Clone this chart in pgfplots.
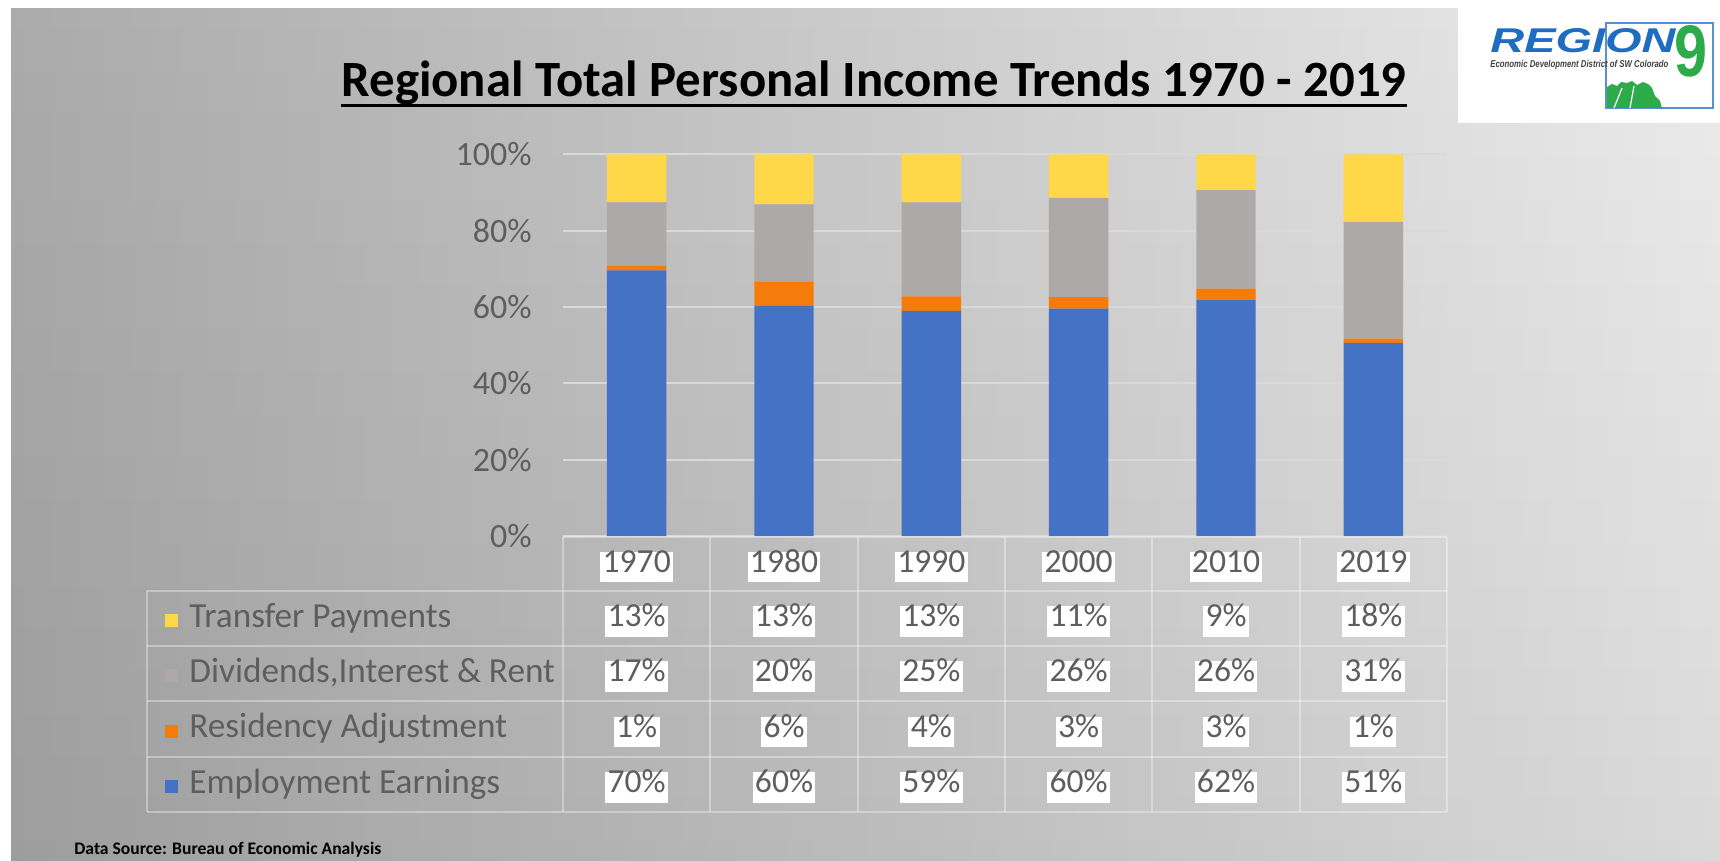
\documentclass[border=0pt]{standalone}
\usepackage{fontspec}
\setmainfont{Carlito}
\newfontfamily\logofont{Liberation Sans}
\usepackage{graphicx}
\usepackage{pgfplots}
\pgfplotsset{compat=1.18}
\usepackage{pgfplotstable}
\usetikzlibrary{fadings}
\pgfkeys{/pgf/number format/assume math mode=true}

\definecolor{cBlue}{HTML}{4472C4}
\definecolor{cOrange}{HTML}{F57C0A}
\definecolor{cGray}{HTML}{ADA9A9}
\definecolor{cYellow}{HTML}{FFD84A}
\definecolor{txt}{HTML}{5E5E5E}
\definecolor{gridc}{HTML}{D9D9D9}
\definecolor{bgL}{RGB}{171,171,171}
\definecolor{bgR}{RGB}{236,236,236}
\definecolor{logoBlue}{HTML}{1F6DC0}
\definecolor{logoGreen}{HTML}{2DAA4A}

% shares of regional total personal income (percent)
\pgfplotstableread{
x year emp res div tra
0 1970 69.6 1.2 16.6 12.6
1 1980 60.3 6.3 20.3 13.1
2 1990 59.0 3.8 24.6 12.6
3 2000 59.6 3.0 26.0 11.4
4 2010 61.8 3.0 25.8 9.4
5 2019 50.6 1.1 30.6 17.7
}\datatable

\begin{document}
\begin{tikzpicture}
\begin{scope}[x=0.5pt,y=-0.5pt]
\useasboundingbox (0,0) rectangle (1720,861);
\fill[white] (0,0) rectangle (1720,861);
\shade[left color=bgL,right color=bgR] (11,9) rectangle (1720,861);
\fill[black,opacity=0.08,path fading=north] (11,9) rectangle (1720,861);
% logo
\fill[white] (1458,0) rectangle (1720,123);
\draw[logoBlue!75, line width=1.1pt] (1606,23) rectangle (1713,108);
\fill[logoGreen] (1607,108) -- (1607,87) -- (1612,84) -- (1617,86) -- (1621,82) -- (1627,83) -- (1632,81) -- (1637,85) -- (1643,82) -- (1648,84) -- (1652,88) -- (1655,96) -- (1660,101) -- (1662,108) -- cycle;
\draw[white, line width=0.6pt] (1614,108) -- (1622,88) (1630,108) -- (1634,86);
\node[anchor=south west, inner sep=0pt, text=logoBlue] at (1490,53) {\resizebox{92.5pt}{12pt}{\logofont\bfseries\itshape REGION}};
\node[anchor=south west, inner sep=0pt, text=logoGreen] at (1674,78) {\resizebox{16.5pt}{25.5pt}{\logofont\bfseries 9}};
\node[anchor=south west, inner sep=0pt, text=black!75] at (1490,70) {\resizebox{89pt}{3.6pt}{\logofont\bfseries\itshape Economic Development District of SW Colorado}};
% title
\node[font=\fontsize{25.4pt}{28pt}\selectfont\bfseries, anchor=base, inner sep=0pt] (title) at (874,97) {Regional Total Personal Income Trends 1970 - 2019};
\draw[line width=1.5pt] ([yshift=-4.5pt]title.base west) -- ([yshift=-4.5pt]title.base east);
% data source
\node[anchor=west, font=\fontsize{8.8pt}{10pt}\selectfont\bfseries, inner sep=0pt] at (74,850) {Data Source: Bureau of Economic Analysis};
\end{scope}

\begin{axis}[
  at={(281.5pt,-268pt)}, anchor=south west,
  scale only axis, width=442pt, height=190.85pt,
  xmin=-0.5, xmax=5.5, ymin=0, ymax=100, enlargelimits=false,
  ybar stacked, bar width=29.7pt,
  axis line style={draw=none}, major tick length=0pt,
  xtick=\empty,
  ytick={0,20,40,60,80,100},
  yticklabels={0\%,20\%,40\%,60\%,80\%,100\%},
  yticklabel style={font=\fontsize{17pt}{17pt}\selectfont, text=txt, inner sep=0pt, xshift=-15.5pt},
  ymajorgrids, major grid style={draw=gridc, line width=1pt},
]
\addplot[fill=cBlue, draw=none] table[x=x,y=emp]{\datatable};
\addplot[fill=cOrange, draw=none] table[x=x,y=res]{\datatable};
\addplot[fill=cGray, draw=none] table[x=x,y=div]{\datatable};
\addplot[fill=cYellow, draw=none] table[x=x,y=tra]{\datatable};
\end{axis}

\begin{scope}[x=0.5pt,y=-0.5pt]
% table grid
\tikzset{tl/.style={draw=white, draw opacity=0.35, line width=1pt}}
\draw[tl] (563,537) -- (1447,537);
\foreach \yy in {591,646,701,757,812} {\draw[tl] (147,\yy) -- (1447,\yy);}
\draw[tl] (147,591) -- (147,812);
\foreach \k in {0,...,6} {\draw[tl] ({563+147.33*\k},537) -- ({563+147.33*\k},812);}
% legend column
\tikzset{rowtext/.style={anchor=west, inner sep=0pt, text=txt, font=\fontsize{17.6pt}{18pt}\selectfont, text height=0.7em, text depth=0.2em}}
\fill[cYellow] (165,614) rectangle (178,627);
\node[rowtext] at (189,622) {Transfer Payments};
\fill[cGray] (165,669) rectangle (178,682);
\node[rowtext] at (189,677) {Dividends,Interest \& Rent};
\fill[cOrange] (165,724.5) rectangle (178,737.5);
\node[rowtext] at (189,732.5) {Residency Adjustment};
\fill[cBlue] (165,780) rectangle (178,793);
\node[rowtext] at (189,788) {Employment Earnings};
% cells
\tikzset{cell/.style={fill=white, text=txt, font=\fontsize{16.8pt}{17pt}\selectfont, inner xsep=1.2pt, inner ysep=3.4pt, text height=0.68em, text depth=0.17em}}
\foreach \c in {0,...,5} {
  \pgfplotstablegetelem{\c}{year}\of\datatable
  \node[cell] at ({636.7+147.33*\c},567) {\pgfplotsretval};
  \foreach \col/\rr in {tra/621.5,div/676.5,res/732,emp/787.5} {
    \pgfplotstablegetelem{\c}{\col}\of\datatable
    \node[cell] at ({636.7+147.33*\c},\rr) {\pgfmathprintnumber[fixed,precision=0]{\pgfplotsretval}\%};
  }
}
\end{scope}
\end{tikzpicture}
\end{document}
